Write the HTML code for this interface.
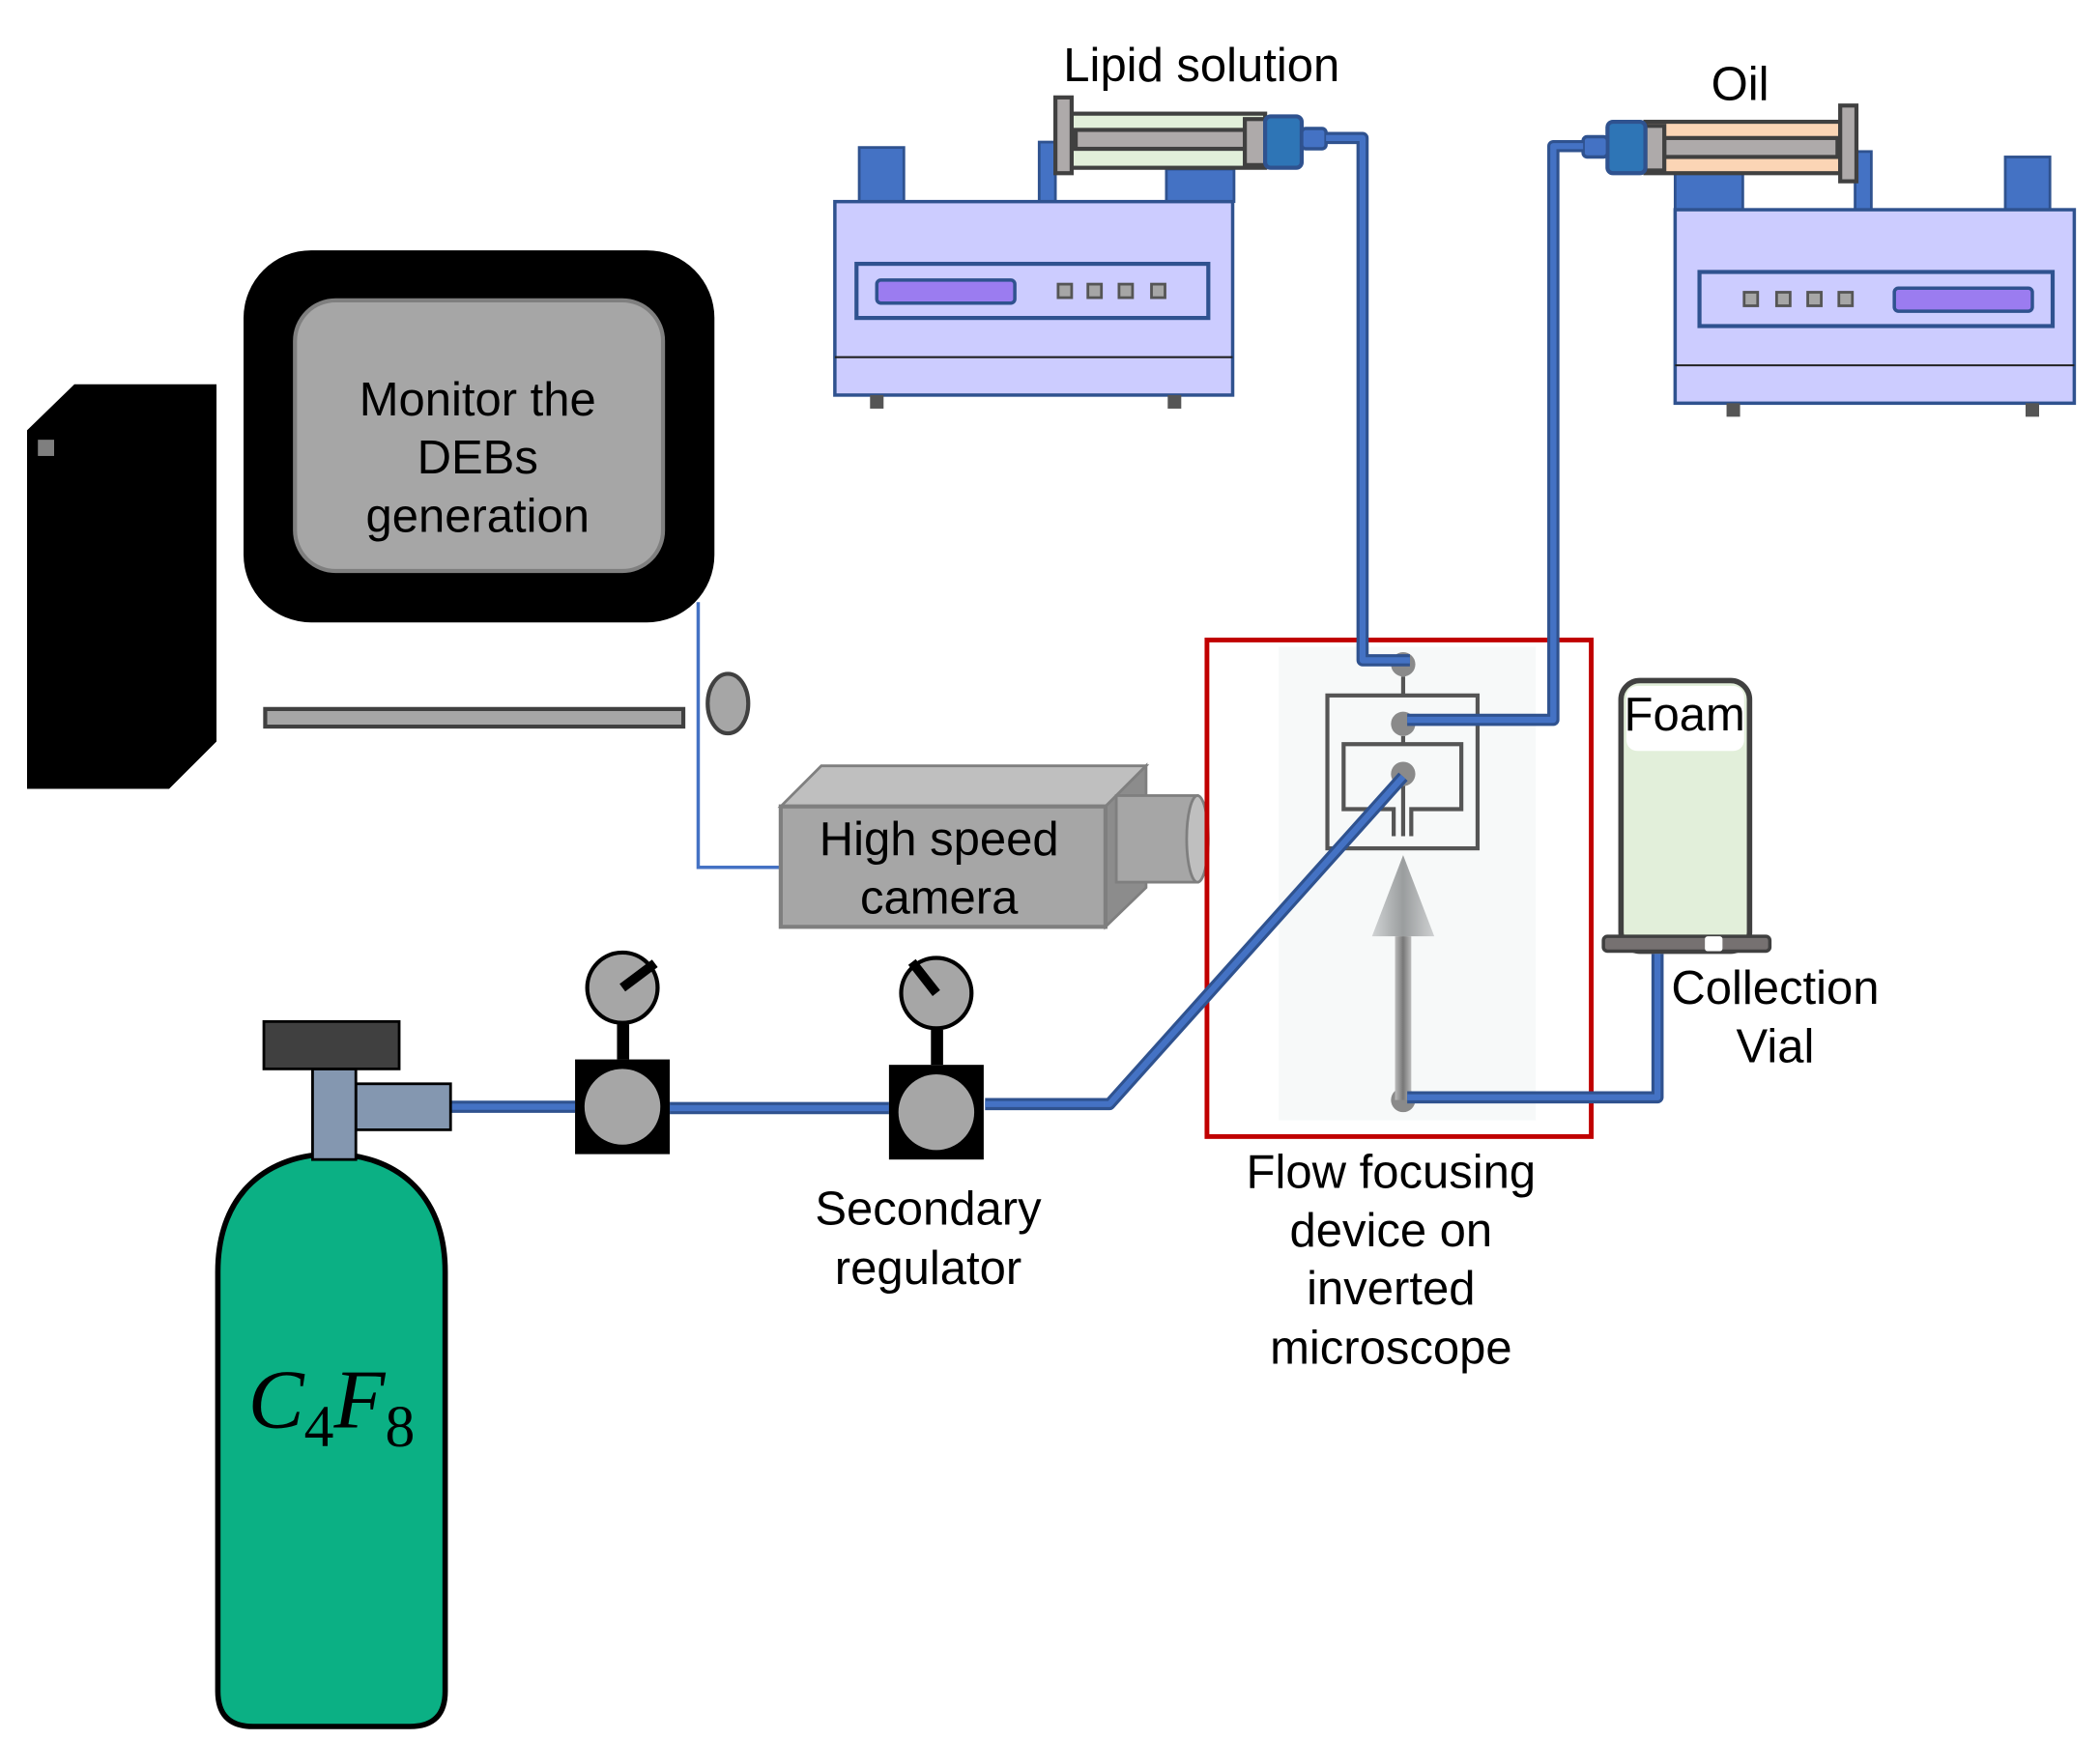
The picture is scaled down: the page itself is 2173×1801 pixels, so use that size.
<!DOCTYPE html>
<html><head><meta charset="utf-8"><style>
html,body{margin:0;padding:0;background:#fff}
svg{display:block}
text{font-family:"Liberation Sans",sans-serif;fill:#000}
</style></head><body>
<svg width="2173" height="1801" viewBox="0 0 1552 1286" xmlns="http://www.w3.org/2000/svg" preserveAspectRatio="none">
<defs>
<linearGradient id="ag" x1="0" x2="1"><stop offset="0" stop-color="#d0d3d4"/><stop offset="0.5" stop-color="#9a9d9e"/><stop offset="1" stop-color="#cfd1d2"/></linearGradient>
<linearGradient id="sg" x1="0" x2="1"><stop offset="0" stop-color="#bbb"/><stop offset="0.5" stop-color="#777"/><stop offset="1" stop-color="#bbb"/></linearGradient>
</defs>
<polygon points="20,318 55,284 160,284 160,548 125,583 20,583" fill="#000"/>
<rect x="28" y="325" width="12" height="12" fill="#7f7f7f"/>
<rect x="180" y="185" width="348" height="275" rx="50" fill="#000"/>
<rect x="218" y="222" width="272" height="200" rx="30" fill="#a6a6a6" stroke="#7f7f7f" stroke-width="3"/>
<text x="353" y="307" font-size="35" text-anchor="middle">Monitor the</text>
<text x="353" y="350" font-size="35" text-anchor="middle">DEBs</text>
<text x="353" y="393" font-size="35" text-anchor="middle">generation</text>
<polygon points="196,524 505,524 505,537 196,537" fill="#a6a6a6" stroke="#404040" stroke-width="3"/>
<ellipse cx="538" cy="520" rx="15" ry="22" fill="#a6a6a6" stroke="#404040" stroke-width="3"/>
<polyline points="516,445 516,641 577,641" fill="none" stroke="#4472c4" stroke-width="2.5"/>
<polygon points="577,596 607,566 847,566 817,596" fill="#bfbfbf" stroke="#7f7f7f" stroke-width="2"/>
<polygon points="817,596 847,566 847,656 817,685" fill="#8c8c8c" stroke="#7f7f7f" stroke-width="2"/>
<rect x="577" y="596" width="240" height="89" fill="#a6a6a6" stroke="#7f7f7f" stroke-width="3"/>
<rect x="825" y="588" width="60" height="64" fill="#a6a6a6" stroke="#7f7f7f" stroke-width="2"/>
<ellipse cx="885" cy="620" rx="8" ry="32" fill="#bfbfbf" stroke="#7f7f7f" stroke-width="2"/>
<text x="694" y="632" font-size="35" text-anchor="middle">High speed</text>
<text x="694" y="675" font-size="35" text-anchor="middle">camera</text>
<rect x="635" y="109" width="33" height="40" fill="#4472c4" stroke="#2f528f" stroke-width="2"/>
<rect x="768" y="105" width="12" height="44" fill="#4472c4" stroke="#2f528f" stroke-width="2"/>
<rect x="862" y="125" width="50" height="24" fill="#4472c4" stroke="#2f528f" stroke-width="2"/>
<rect x="617" y="149" width="294" height="143" fill="#ccccff" stroke="#2f528f" stroke-width="2.5"/>
<line x1="617" y1="264" x2="911" y2="264" stroke="#222" stroke-width="1.5"/>
<rect x="633" y="195" width="260" height="40" fill="none" stroke="#2f528f" stroke-width="3"/>
<rect x="648" y="207" width="102" height="17" rx="3" fill="#9b7cf0" stroke="#2f528f" stroke-width="2.5"/>
<g fill="#a6a6a6" stroke="#555" stroke-width="2"><rect x="782" y="210" width="10" height="10"/><rect x="804" y="210" width="10" height="10"/><rect x="827" y="210" width="10" height="10"/><rect x="851" y="210" width="10" height="10"/></g>
<rect x="643" y="292" width="10" height="10" fill="#555"/><rect x="863" y="292" width="10" height="10" fill="#555"/>
<rect x="792" y="84" width="143" height="40" fill="#e2efda" stroke="#404040" stroke-width="3"/>
<rect x="795" y="96" width="127" height="14" fill="#aeaaaa" stroke="#404040" stroke-width="3"/>
<rect x="920" y="88" width="15" height="34" fill="#aeaaaa" stroke="#404040" stroke-width="3"/>
<rect x="780" y="72" width="12" height="56" fill="#aeaaaa" stroke="#404040" stroke-width="3"/>
<rect x="935" y="86" width="27" height="38" rx="4" fill="#2e75b6" stroke="#2f528f" stroke-width="3"/>
<rect x="962" y="95" width="18" height="15" rx="3" fill="#4472c4" stroke="#2f528f" stroke-width="2.5"/>
<text x="888" y="60" font-size="35" text-anchor="middle">Lipid solution</text>
<rect x="1238" y="128" width="50" height="27" fill="#4472c4" stroke="#2f528f" stroke-width="2"/>
<rect x="1371" y="112" width="12" height="43" fill="#4472c4" stroke="#2f528f" stroke-width="2"/>
<rect x="1482" y="116" width="33" height="39" fill="#4472c4" stroke="#2f528f" stroke-width="2"/>
<rect x="1238" y="155" width="295" height="143" fill="#ccccff" stroke="#2f528f" stroke-width="2.5"/>
<line x1="1238" y1="270" x2="1533" y2="270" stroke="#222" stroke-width="1.5"/>
<rect x="1256" y="201" width="261" height="40" fill="none" stroke="#2f528f" stroke-width="3"/>
<rect x="1400" y="213" width="102" height="17" rx="3" fill="#9b7cf0" stroke="#2f528f" stroke-width="2.5"/>
<g fill="#a6a6a6" stroke="#555" stroke-width="2"><rect x="1289" y="216" width="10" height="10"/><rect x="1313" y="216" width="10" height="10"/><rect x="1336" y="216" width="10" height="10"/><rect x="1359" y="216" width="10" height="10"/></g>
<rect x="1276" y="298" width="10" height="10" fill="#555"/><rect x="1497" y="298" width="10" height="10" fill="#555"/>
<rect x="1216" y="90" width="144" height="38" fill="#fbd5b5" stroke="#404040" stroke-width="3"/>
<rect x="1230" y="102" width="128" height="14" fill="#aeaaaa" stroke="#404040" stroke-width="3"/>
<rect x="1216" y="93" width="14" height="33" fill="#aeaaaa" stroke="#404040" stroke-width="3"/>
<rect x="1360" y="78" width="12" height="56" fill="#aeaaaa" stroke="#404040" stroke-width="3"/>
<rect x="1188" y="90" width="28" height="38" rx="4" fill="#2e75b6" stroke="#2f528f" stroke-width="3"/>
<rect x="1170" y="101" width="18" height="15" rx="3" fill="#4472c4" stroke="#2f528f" stroke-width="2.5"/>
<text x="1286" y="74" font-size="35" text-anchor="middle">Oil</text>
<rect x="945" y="478" width="190" height="350" fill="#f7f9f9"/>
<g fill="none" stroke="#555" stroke-width="3">
<rect x="981" y="514" width="111" height="113"/>
<path d="M1030,618 L1030,598 L993,598 L993,550 L1080,550 L1080,598 L1043,598 L1043,618"/>
<line x1="1037" y1="500" x2="1037" y2="514"/>
<line x1="1037" y1="544" x2="1037" y2="550"/>
<line x1="1037" y1="580" x2="1037" y2="618"/>
</g>
<g fill="#8a8a8a"><circle cx="1037" cy="491" r="9"/><circle cx="1037" cy="535" r="9"/><circle cx="1037" cy="572" r="9"/><circle cx="1037" cy="813" r="9"/></g>
<polygon points="1037,632 1014,692 1060,692" fill="url(#ag)"/>
<rect x="1031" y="692" width="12" height="121" fill="url(#sg)"/>
<rect x="892" y="473" width="284" height="367" fill="none" stroke="#c00000" stroke-width="3.5"/>
<rect x="1198" y="503" width="95" height="200" rx="14" fill="#e2efda" stroke="#404040" stroke-width="4"/>
<rect x="1202" y="507" width="87" height="48" rx="8" fill="#fff"/>
<text x="1245" y="540" font-size="35" text-anchor="middle">Foam</text>
<rect x="1185" y="692" width="123" height="11" rx="3" fill="#767171" stroke="#404040" stroke-width="2.5"/>
<rect x="1260" y="692" width="13" height="11" rx="2" fill="#fff"/>
<text x="1312" y="742" font-size="35" text-anchor="middle">Collection</text>
<text x="1312" y="785" font-size="35" text-anchor="middle">Vial</text>
<text x="1028" y="878" font-size="35" text-anchor="middle">Flow focusing</text>
<text x="1028" y="921" font-size="35" text-anchor="middle">device on</text>
<text x="1028" y="964" font-size="35" text-anchor="middle">inverted</text>
<text x="1028" y="1008" font-size="35" text-anchor="middle">microscope</text>
<g fill="none" stroke-linejoin="round">
<g stroke="#2f528f" stroke-width="9">
<polyline points="980,102 1007,102 1007,488 1042,488"/>
<polyline points="1170,108 1148,108 1148,532 1040,532"/>
<polyline points="1037,574 820,816 728,816"/>
<polyline points="495,819 657,819"/>
<polyline points="333,818 425,818"/>
<polyline points="1040,811 1225,811 1225,705"/>
</g>
<g stroke="#4472c4" stroke-width="4.5">
<polyline points="980,102 1007,102 1007,488 1042,488"/>
<polyline points="1170,108 1148,108 1148,532 1040,532"/>
<polyline points="1037,574 820,816 728,816"/>
<polyline points="495,819 657,819"/>
<polyline points="333,818 425,818"/>
<polyline points="1040,811 1225,811 1225,705"/>
</g>
</g>
<rect x="456" y="757" width="9" height="26" fill="#000"/>
<rect x="425" y="783" width="70" height="70" fill="#000"/>
<circle cx="460" cy="818" r="28" fill="#a6a6a6"/>
<circle cx="460" cy="730" r="26" fill="#a6a6a6" stroke="#000" stroke-width="3"/>
<line x1="460" y1="730" x2="484" y2="712" stroke="#000" stroke-width="7"/>
<rect x="688" y="761" width="9" height="26" fill="#000"/>
<rect x="657" y="787" width="70" height="70" fill="#000"/>
<circle cx="692" cy="822" r="28" fill="#a6a6a6"/>
<circle cx="692" cy="734" r="26" fill="#a6a6a6" stroke="#000" stroke-width="3"/>
<line x1="692" y1="734" x2="674" y2="711" stroke="#000" stroke-width="7"/>
<text x="686" y="905" font-size="35" text-anchor="middle">Secondary</text>
<text x="686" y="949" font-size="35" text-anchor="middle">regulator</text>
<path d="M161,940 C161,880 200,853 245,853 C290,853 329,880 329,940 L329,1250 Q329,1276 303,1276 L187,1276 Q161,1276 161,1250 Z" fill="#0bb084" stroke="#000" stroke-width="4"/>
<rect x="263" y="801" width="70" height="34" fill="#8497b0" stroke="#000" stroke-width="2"/>
<rect x="231" y="790" width="32" height="67" fill="#8497b0" stroke="#000" stroke-width="2"/>
<rect x="195" y="755" width="100" height="35" fill="#404040" stroke="#000" stroke-width="2"/>
<text x="245" y="1055" font-size="62" text-anchor="middle" style="font-family:'Liberation Serif',serif;font-style:italic">C<tspan font-size="44" font-style="normal" dy="14">4</tspan><tspan dy="-14">F</tspan><tspan font-size="44" font-style="normal" dy="14">8</tspan></text>
</svg>
</body></html>
